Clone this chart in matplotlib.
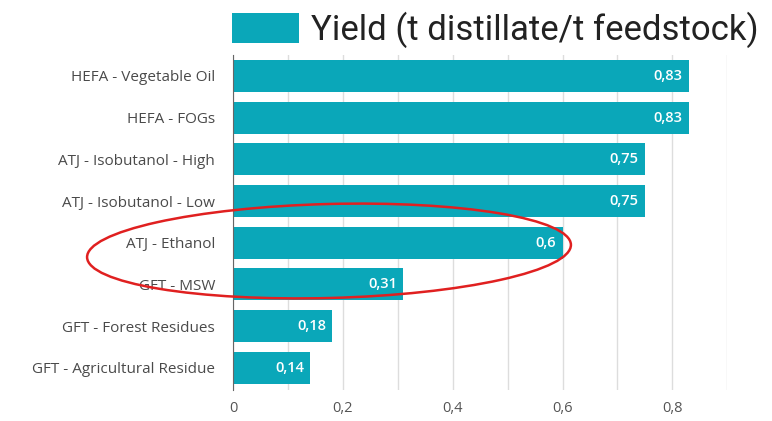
from __future__ import annotations

import matplotlib
matplotlib.use("Agg")
import matplotlib.pyplot as plt
from matplotlib.patches import Ellipse
from matplotlib.transforms import IdentityTransform

categories = [
    "HEFA - Vegetable Oil",
    "HEFA - FOGs",
    "ATJ - Isobutanol - High",
    "ATJ - Isobutanol - Low",
    "ATJ - Ethanol",
    "GFT - MSW",
    "GFT - Forest Residues",
    "GFT - Agricultural Residue",
]
yields = [0.83, 0.83, 0.75, 0.75, 0.6, 0.31, 0.18, 0.14]
series_name = "Yield (t distillate/t feedstock)"
x_ticks = [0, 0.2, 0.4, 0.6, 0.8]
x_tick_labels = ["0", "0,2", "0,4", "0,6", "0,8"]

BAR = "#0aa7b9"
LABEL_FONT = ["Open Sans", "DejaVu Sans"]


def main() -> None:
    plt.rcParams["font.family"] = ["Roboto", "DejaVu Sans"]
    fig = plt.figure(figsize=(7.72, 4.21), dpi=100)
    ax = fig.add_axes([0.302, 0.074, 0.640, 0.795])

    pos = list(range(len(categories)))
    bars = ax.barh(pos, yields, height=0.77, color=BAR, label=series_name, zorder=3)
    ax.set_ylim(len(categories) - 0.47, -0.5)
    ax.set_xlim(0, 0.9)

    for b, v in zip(bars, yields):
        ax.text(b.get_width() - 0.011, b.get_y() + b.get_height() / 2,
                f"{v:g}".replace(".", ","), ha="right", va="center",
                color="white", fontsize=10.5, fontweight="semibold",
                family=LABEL_FONT, zorder=4)

    ax.set_yticks(pos)
    ax.set_yticklabels(categories, fontsize=11, color="#4a4a4a", family=LABEL_FONT)
    ax.set_xticks(x_ticks)
    ax.set_xticklabels(x_tick_labels, fontsize=10.5, color="#555555", family=LABEL_FONT)
    ax.set_xticks([i / 10 for i in range(1, 10, 2)], minor=True)
    ax.tick_params(axis="both", which="both", length=0)
    ax.tick_params(axis="y", pad=13)
    ax.tick_params(axis="x", pad=8)
    ax.grid(axis="x", which="both", color="#dddddd", lw=1, zorder=0)
    for s in ["top", "right", "bottom"]:
        ax.spines[s].set_visible(False)
    ax.spines["left"].set_color("#666666")
    ax.spines["left"].set_zorder(5)

    leg = ax.legend(loc="lower left", bbox_to_anchor=(-0.002, 1.02), frameon=False,
                    fontsize=25, handlelength=1.93, handleheight=0.95,
                    handletextpad=0.35, borderaxespad=0, borderpad=0)
    for t in leg.get_texts():
        t.set_color("#222222")

    # red highlight ellipse (pixel coordinates)
    ell = Ellipse((329, 421 - 251), 484, 94, angle=1.5, fill=False,
                  edgecolor="#e02020", lw=1.8, transform=IdentityTransform(),
                  zorder=10)
    fig.patches.append(ell)

    fig.savefig("out.png", dpi=100)


if __name__ == "__main__":
    main()
